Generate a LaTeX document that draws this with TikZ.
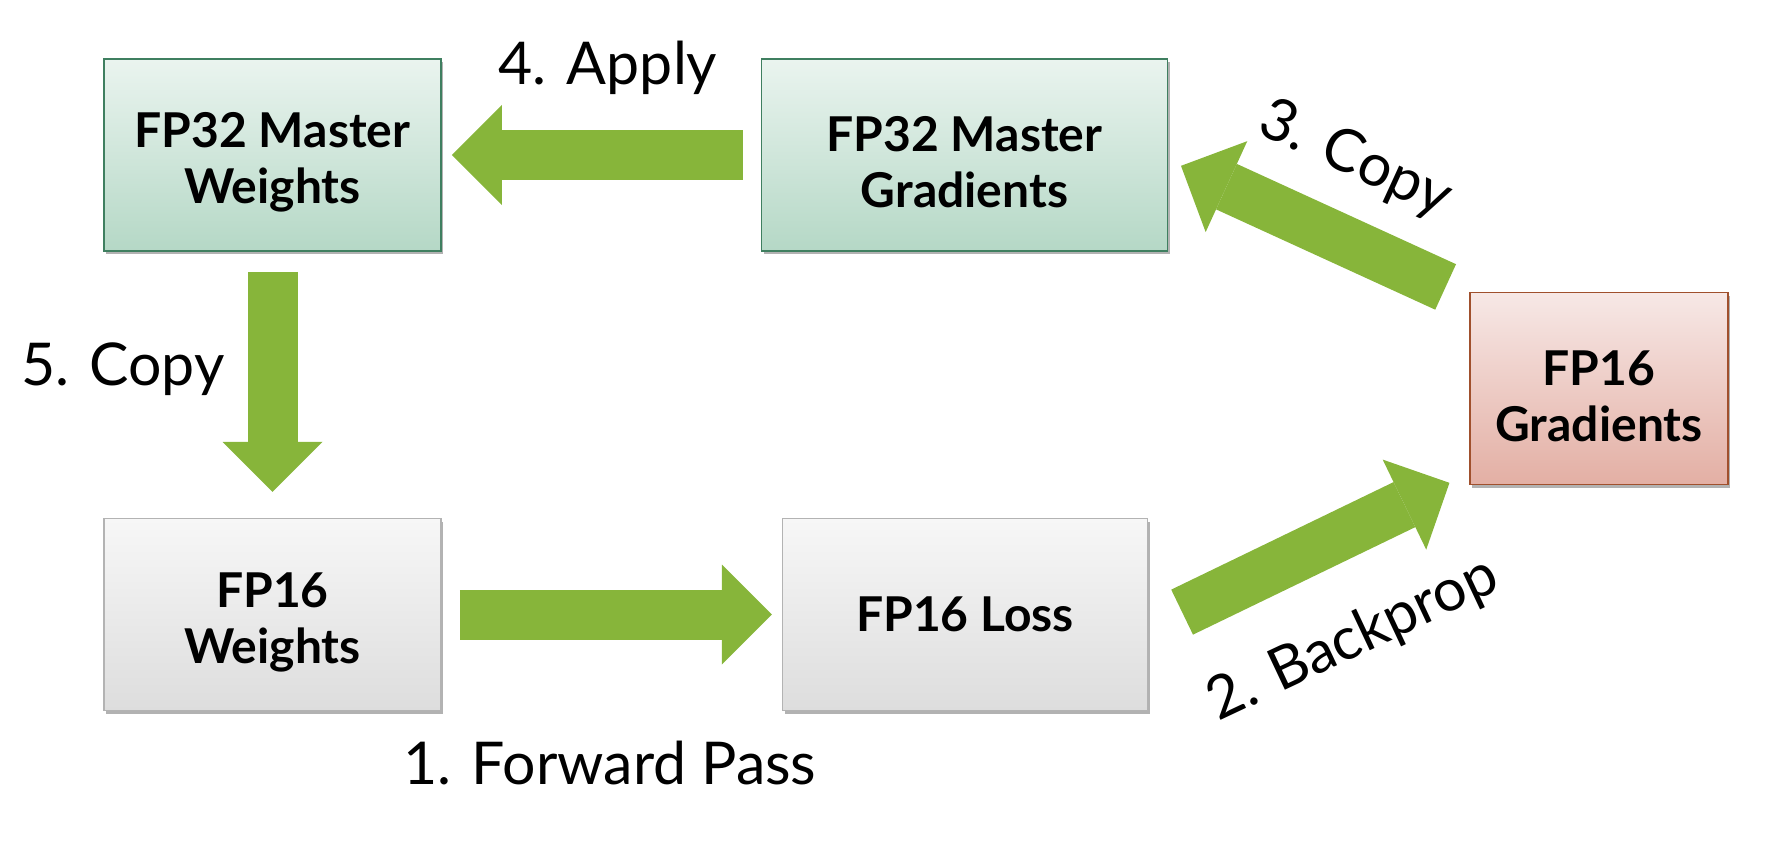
\documentclass[tikz,border=0pt]{standalone}
\usepackage{fontspec}
\setmainfont{Lato}
\usetikzlibrary{arrows.meta, positioning, shadows}

\definecolor{flowgreen}{HTML}{87B53A}
\definecolor{mastertop}{HTML}{EAF4EF}
\definecolor{masterbot}{HTML}{B5D8C6}
\definecolor{masterline}{HTML}{3F7F60}
\definecolor{halftop}{HTML}{F7F7F7}
\definecolor{halfbot}{HTML}{DDDDDD}
\definecolor{halfline}{HTML}{B3B3B3}
\definecolor{gradtop}{HTML}{F7E8E6}
\definecolor{gradbot}{HTML}{E3AFA4}
\definecolor{gradline}{HTML}{A0502D}

% 2行ボックスの文字を少し下げる
\newcommand{\boxstrut}{\rule{0pt}{25pt}}

\begin{document}
\begin{tikzpicture}[
    x=0.5pt, y=-0.5pt,
    box/.style={draw, rectangle, align=center, inner sep=0pt, minimum height=96pt,
      line width=0.75pt, font=\bfseries\fontsize{24}{28}\selectfont,
      drop shadow={shadow xshift=1.2pt, shadow yshift=-1.5pt, opacity=0.3, fill=black}},
    master/.style={box, draw=masterline, top color=mastertop, bottom color=masterbot},
    half/.style={box, draw=halfline, top color=halftop, bottom color=halfbot},
    grad/.style={box, draw=gradline, top color=gradtop, bottom color=gradbot},
    flow/.style={draw=flowgreen, line width=25pt,
      -{Triangle[width=50pt, length=25pt, line width=0pt]}},
    lbl/.style={inner sep=0pt, font=\fontsize{29.5}{35}\selectfont}
  ]
  \useasboundingbox (0,0) rectangle (1770,840);

  % ボックス
  \node[master, minimum width=168.5pt] (mw) at (272.5,155) {\boxstrut FP32 Master\\Weights};
  \node[master, minimum width=203pt] (mg) [right=159.5pt of mw] {\boxstrut FP32 Master\\Gradients};
  \node[half, minimum width=168.5pt] (fw) [below=133pt of mw] {\boxstrut FP16\\Weights};
  \node[half, minimum width=182.5pt] (fl) [right=170pt of fw] {FP16 Loss};
  \node[grad, minimum width=129pt] (fg) [below right=20pt and 150.5pt of mg] {\boxstrut FP16\\Gradients};

  % 矢印
  \draw[flow, shorten <=9pt, shorten >=5pt] (fw.east) -- (fl.west);
  \draw[flow, shorten <=18.8pt, shorten >=11pt] ([yshift=-7pt]fl.east) -- ([yshift=6pt]fg.south west);
  \draw[flow, shorten <=13pt, shorten >=7pt] ([yshift=-3pt]fg.north west) -- ([yshift=-2.5pt]mg.east);
  \draw[flow, shorten <=9pt, shorten >=5pt] (mg.west) -- (mw.east);
  \draw[flow, shorten <=10pt, shorten >=13pt] (mw.south) -- (fw.north);

  % ラベル
  \node[lbl, anchor=base] (l1) at (610,784) {1. Forward Pass};
  \node[lbl, rotate=25.2] (l2) at (1353,640) {2. Backprop};
  \node[lbl, rotate=-24.6] (l3) at (1355,160) {3. Copy};
  \node[lbl, anchor=base] (l4) at (608,85) {4. Apply};
  \node[lbl, anchor=base] (l5) at (123,385) {5. Copy};
\end{tikzpicture}
\end{document}
